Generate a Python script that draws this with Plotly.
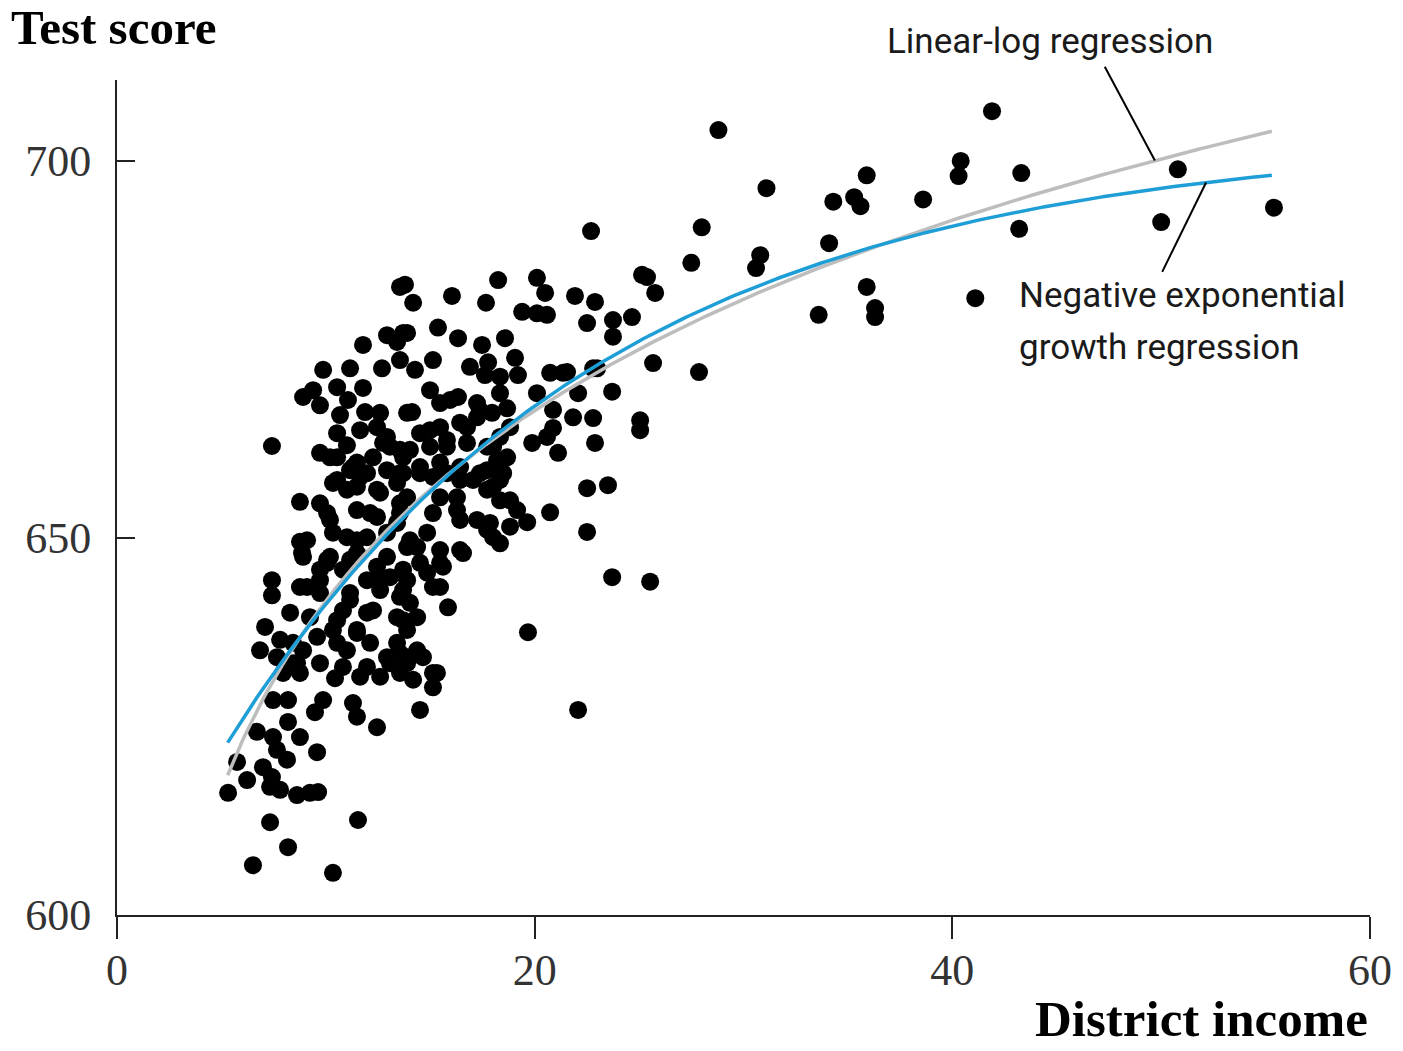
import numpy as np
import plotly.graph_objects as go

# District income (thousands of dollars) and average test score
income = [
    5.32, 5.75, 6.23, 6.51, 6.70, 6.99, 7.33, 7.42, 7.47, 7.66,
    8.14, 7.81, 8.19, 8.76, 8.62, 9.24, 9.63, 9.58, 7.33, 8.19,
    10.34, 11.54, 7.47, 8.19, 9.87, 9.48, 10.44, 11.30, 11.49, 12.45,
    11.64, 12.60, 8.76, 7.95, 8.43, 6.85, 7.09, 7.81, 8.29, 8.91,
    9.72, 8.62, 7.66, 10.82, 11.97, 13.07, 13.89, 12.93, 13.55, 14.37,
    15.13, 15.13, 13.55, 14.18, 14.51, 15.32, 14.65, 13.89, 8.43, 9.58,
    10.54, 11.49, 12.12, 13.41, 10.34, 11.49, 11.01, 10.82, 11.97, 9.24,
    10.54, 12.26, 13.41, 11.16, 13.89, 14.03, 14.37, 13.70, 13.55, 15.13,
    15.85, 19.68, 7.42, 7.42, 8.76, 9.72, 10.20, 8.91, 9.10, 9.72,
    10.82, 11.49, 10.06, 11.97, 13.07, 13.70, 12.45, 13.89, 9.72, 11.16,
    12.60, 8.76, 8.86, 8.76, 7.42, 9.72, 10.20, 11.01, 10.54, 11.64,
    12.45, 13.41, 13.89, 11.01, 11.97, 12.45, 11.49, 13.41, 12.93, 13.89,
    9.10, 10.34, 11.49, 12.93, 14.37, 15.47, 16.57, 10.06, 11.16, 12.45,
    14.85, 15.47, 14.51, 13.70, 15.61, 16.43, 15.47, 18.01, 18.34, 17.24,
    17.86, 18.82, 19.64, 19.16, 18.34, 17.72, 18.34, 17.38, 16.28, 16.28,
    15.47, 14.85, 14.03, 15.13, 16.43, 13.55, 10.06, 12.12, 13.55, 15.13,
    16.43, 17.72, 10.34, 11.49, 12.60, 13.55, 14.51, 15.80, 17.05, 18.01,
    18.82, 9.72, 10.54, 11.30, 12.74, 13.55, 14.99, 15.80, 16.76, 18.01,
    18.68, 17.72, 10.20, 11.01, 11.49, 12.26, 13.07, 13.70, 11.16, 11.97,
    12.93, 13.70, 10.54, 11.64, 12.45, 12.93, 10.68, 11.88, 12.60, 13.89,
    11.06, 9.72, 8.91, 9.39, 10.54, 11.78, 9.87, 11.16, 12.69, 13.55,
    11.78, 12.93, 13.41, 13.70, 13.55, 14.18, 13.79, 16.04, 18.25, 20.11,
    20.50, 21.93, 22.89, 17.67, 19.40, 20.11, 20.59, 22.51, 23.75, 23.75,
    24.66, 25.14, 25.38, 25.77, 25.67, 27.87, 22.80, 23.71, 21.36, 22.08,
    13.89, 15.37, 16.33, 17.48, 18.58, 15.13, 14.27, 16.90, 17.77, 19.06,
    19.20, 17.62, 18.34, 16.33, 14.99, 14.13, 17.24, 18.34, 18.68, 20.11,
    20.74, 21.55, 22.99, 20.88, 21.84, 22.80, 20.88, 19.88, 21.12, 22.89,
    14.51, 15.47, 16.43, 17.24, 17.96, 14.03, 14.99, 15.80, 16.76, 17.72,
    18.34, 18.82, 14.51, 15.47, 16.43, 18.20, 18.49, 22.51, 23.51, 20.74,
    22.51, 23.71, 25.53, 22.08, 25.05, 25.05, 15.47, 17.38, 20.59, 15.95,
    28.8, 41.9, 40.4, 40.3, 50.8, 43.3, 31.1, 35.9, 34.3, 35.3,
    35.6, 38.6, 55.4, 50.0, 43.2, 28.0, 22.7, 34.1, 30.8, 30.6,
    27.5, 35.9, 41.1, 36.3, 36.3, 33.6,
]
test_score = [
    616.2, 620.3, 617.9, 606.6, 624.3, 619.6, 617.0, 618.3, 623.6, 621.9,
    620.6, 616.6, 625.6, 623.6, 615.9, 616.2, 616.3, 621.6, 612.3, 609.0,
    605.6, 612.6, 628.5, 628.5, 628.5, 626.9, 631.4, 628.1, 626.3, 624.9,
    631.6, 631.6, 632.1, 632.1, 633.4, 635.1, 638.2, 636.5, 640.1, 635.1,
    633.4, 633.4, 634.2, 632.9, 632.9, 633.4, 634.2, 634.2, 634.7, 635.1,
    632.1, 630.2, 632.1, 631.2, 627.2, 632.1, 634.2, 633.4, 636.1, 636.9,
    636.1, 637.4, 636.1, 636.1, 637.8, 637.8, 635.1, 640.4, 640.1, 639.5,
    639.1, 640.4, 639.5, 641.8, 637.8, 641.4, 639.5, 639.1, 642.2, 643.5,
    640.8, 637.5, 644.4, 642.4, 643.5, 645.8, 647.5, 647.5, 643.5, 644.4,
    645.8, 648.0, 647.1, 644.4, 644.8, 643.1, 644.4, 644.4, 642.7, 642.7,
    643.1, 649.5, 648.0, 654.8, 662.2, 654.6, 652.4, 656.4, 657.7, 658.1,
    656.4, 657.3, 655.4, 650.1, 650.1, 652.8, 653.7, 652.0, 647.5, 648.8,
    649.7, 650.7, 649.7, 650.7, 648.8, 646.7, 648.0, 646.7, 647.1, 646.2,
    645.4, 643.5, 646.7, 645.8, 646.2, 648.4, 648.4, 650.1, 649.3, 652.4,
    652.0, 651.5, 652.1, 653.7, 655.0, 656.4, 657.7, 658.6, 653.7, 655.4,
    655.4, 650.7, 649.7, 658.1, 657.7, 654.6, 653.3, 653.3, 653.3, 653.3,
    652.4, 651.1, 657.3, 656.8, 656.0, 658.6, 658.6, 658.6, 657.7, 656.8,
    655.0, 661.3, 660.7, 659.4, 662.6, 661.7, 664.3, 663.0, 664.7, 662.1,
    660.7, 659.0, 660.7, 662.3, 660.0, 660.7, 662.1, 660.7, 659.0, 658.6,
    659.0, 658.6, 663.9, 664.3, 664.7, 663.4, 666.3, 666.7, 666.6, 666.6,
    668.3, 667.6, 668.7, 669.6, 670.0, 669.9, 672.3, 672.5, 672.5, 673.6,
    675.6, 676.9, 676.0, 677.2, 683.3, 681.2, 683.6, 682.1, 684.2, 684.5,
    682.5, 682.1, 681.3, 681.2, 680.0, 679.8, 679.6, 678.5, 678.9, 676.7,
    679.3, 684.9, 684.6, 682.5, 673.2, 672.0, 672.5, 669.4, 671.9, 669.2,
    677.2, 677.9, 676.5, 675.6, 676.5, 673.6, 672.3, 672.7, 673.3, 673.9,
    671.6, 671.6, 671.4, 668.7, 669.6, 666.7, 667.9, 669.2, 667.2, 669.2,
    671.9, 672.0, 672.5, 667.0, 666.0, 665.9, 664.6, 662.6, 661.3, 662.6,
    663.9, 664.7, 665.3, 666.0, 666.6, 661.7, 662.1, 662.1, 662.6, 662.1,
    663.4, 664.7, 659.4, 660.0, 659.4, 660.3, 658.6, 656.6, 657.0, 653.4,
    650.8, 644.8, 644.2, 627.2, 665.6, 664.3, 667.9, 666.9, 663.4, 668.3,
    704.1, 706.6, 700.0, 698.0, 698.9, 698.4, 696.4, 698.1, 694.6, 695.2,
    694.0, 694.9, 693.8, 691.9, 691.0, 691.2, 690.7, 689.1, 687.5, 685.8,
    686.5, 683.3, 681.8, 680.5, 679.3, 679.6,
]
assert len(income) == len(test_score)

# Regression coefficients (Stock & Watson, California test score data)
linlog_b0, linlog_b1 = 557.8, 36.42            # TestScore = b0 + b1 ln(Income)
negexp_b0, negexp_b1, negexp_b2 = 703.2, 0.0552, 34.0  # b0[1 - exp(-b1 (Income + b2))]
curve_x_min, curve_x_max = 5.3, 55.3

x_tick_vals = [0, 20, 40, 60]
y_tick_vals = [600, 650, 700]
x_range = [0, 60]
y_range = [600, 710.74]


def linlog(x):
    return linlog_b0 + linlog_b1 * np.log(x)


def negexp(x):
    return negexp_b0 * (1 - np.exp(-negexp_b1 * (x + negexp_b2)))


def to_paper(x, y):
    return ((x - x_range[0]) / (x_range[1] - x_range[0]),
            (y - y_range[0]) / (y_range[1] - y_range[0]))


xs = np.linspace(curve_x_min, curve_x_max, 300)

SERIF = "Liberation Serif, DejaVu Serif, serif"
SANS = "Roboto, Open Sans, sans-serif"

fig = go.Figure()
fig.add_trace(go.Scatter(
    x=income, y=test_score, mode="markers",
    marker=dict(color="black", size=18, line=dict(width=0)),
    showlegend=False, cliponaxis=False,
))
fig.add_trace(go.Scatter(
    x=xs, y=linlog(xs), mode="lines",
    line=dict(color="#bdbdbd", width=3.5), showlegend=False,
))
fig.add_trace(go.Scatter(
    x=xs, y=negexp(xs), mode="lines",
    line=dict(color="#1e9ed6", width=3.5), showlegend=False,
))

# leader lines for the labels (paper coordinates so they are not clipped)
x_ll, x_ne = 49.7, 52.15
p0 = to_paper(47.3, 712.5)
p1 = to_paper(x_ll, linlog(x_ll))
fig.add_shape(type="line", xref="paper", yref="paper",
              x0=p0[0], y0=p0[1], x1=p1[0], y1=p1[1],
              line=dict(color="black", width=2))
q0 = to_paper(50.05, 685.3)
q1 = to_paper(x_ne, negexp(x_ne))
fig.add_shape(type="line", xref="paper", yref="paper",
              x0=q0[0], y0=q0[1], x1=q1[0], y1=q1[1],
              line=dict(color="black", width=2))

annotations = [
    dict(text="<b>Test score</b>", xref="paper", yref="paper", x=-0.086, y=1.098,
         xanchor="left", yanchor="top", showarrow=False,
         font=dict(family=SERIF, size=49, color="black")),
    dict(text="<b>District income</b>", xref="paper", yref="paper", x=1.0, y=-0.161,
         xanchor="right", yanchor="bottom", showarrow=False,
         font=dict(family=SERIF, size=51, color="black")),
    dict(text="Linear-log regression", xref="x", yref="paper", x=44.68,
         y=to_paper(0, 715.8)[1],
         xanchor="center", yanchor="middle", showarrow=False,
         font=dict(family=SANS, size=35, color="#1a1a1a")),
    dict(text="Negative exponential", xref="x", yref="y", x=43.1, y=682.2,
         xanchor="left", yanchor="middle", showarrow=False,
         font=dict(family=SANS, size=35, color="#1a1a1a")),
    dict(text="growth regression", xref="x", yref="y", x=43.1, y=675.3,
         xanchor="left", yanchor="middle", showarrow=False,
         font=dict(family=SANS, size=35, color="#1a1a1a")),
]

fig.update_layout(
    width=1403, height=1051,
    margin=dict(l=117, r=33, t=80, b=136),
    paper_bgcolor="white", plot_bgcolor="white",
    annotations=annotations,
    xaxis=dict(
        range=x_range, tickvals=x_tick_vals, ticks="outside", ticklen=22,
        tickwidth=2, tickcolor="#222", showline=True, linecolor="#222", linewidth=2,
        showgrid=False, zeroline=False, ticklabelstandoff=-7,
        tickfont=dict(family=SERIF, size=44, color="#333"),
    ),
    yaxis=dict(
        range=y_range, tickvals=y_tick_vals, ticks="inside", ticklen=18,
        tickwidth=2, tickcolor="#222", showline=True, linecolor="#222", linewidth=2,
        showgrid=False, zeroline=False, ticklabelstandoff=15,
        tickfont=dict(family=SERIF, size=44, color="#333"),
    ),
)

fig.write_html("out.html")
